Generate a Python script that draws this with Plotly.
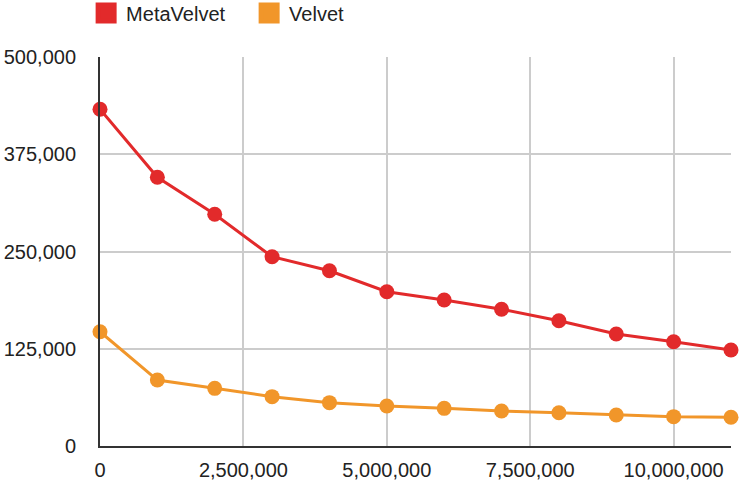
import plotly.graph_objects as go

x_values = [0, 1000000, 2000000, 3000000, 4000000, 5000000, 6000000, 7000000, 8000000, 9000000, 10000000, 11000000]
metavelvet = [432800, 345400, 297800, 243300, 225300, 198300, 187700, 175700, 161000, 144000, 134000, 123400]
velvet = [146900, 84800, 74100, 63400, 55700, 51400, 48400, 45000, 42800, 39800, 37700, 36900]
series_names = ["MetaVelvet", "Velvet"]
colors = ["#e22a2b", "#f1962a"]
x_ticks = [0, 2500000, 5000000, 7500000, 10000000]
y_ticks = [0, 125000, 250000, 375000, 500000]

fig = go.Figure()
for name, ys, c in zip(series_names, [metavelvet, velvet], colors):
    fig.add_trace(go.Scatter(x=x_values, y=ys, mode="lines+markers", name=name,
                             line=dict(color=c, width=3), marker=dict(color=c, size=15),
                             showlegend=False, cliponaxis=False))
for name, c in zip(series_names, colors):
    fig.add_trace(go.Scatter(x=[None], y=[None], mode="markers", name=name,
                             marker=dict(color=c, size=20, symbol="square",
                                         line=dict(color=c, width=5))))

font = dict(family="Liberation Sans, Arial, sans-serif", size=20, color="#222222")
fig.update_layout(
    width=742, height=483,
    margin=dict(l=100, r=11, t=57, b=37, autoexpand=False),
    paper_bgcolor="white", plot_bgcolor="white",
    font=font,
    legend=dict(orientation="h", x=-0.022, xanchor="left", y=1.113, yanchor="middle",
                font=font, itemwidth=30, tracegroupgap=0, bgcolor="rgba(0,0,0,0)",
                entrywidth=118, entrywidthmode="pixels"),
)
fig.update_xaxes(range=[0, 11000000], tickvals=x_ticks, tickformat=",d",
                 showgrid=True, gridcolor="#cccccc", gridwidth=2,
                 showline=True, linecolor="#333333", linewidth=2,
                 zeroline=False, ticks="", ticklabelstandoff=5, automargin=False)
fig.update_yaxes(range=[0, 500000], tickvals=y_ticks, tickformat=",d",
                 showgrid=True, gridcolor="#cccccc", gridwidth=2,
                 showline=True, linecolor="#333333", linewidth=2,
                 zeroline=False, ticks="", ticklabelstandoff=18, automargin=False)

fig.write_html("out.html", config={"displayModeBar": False},
               post_script="document.body.style.margin='0';")
